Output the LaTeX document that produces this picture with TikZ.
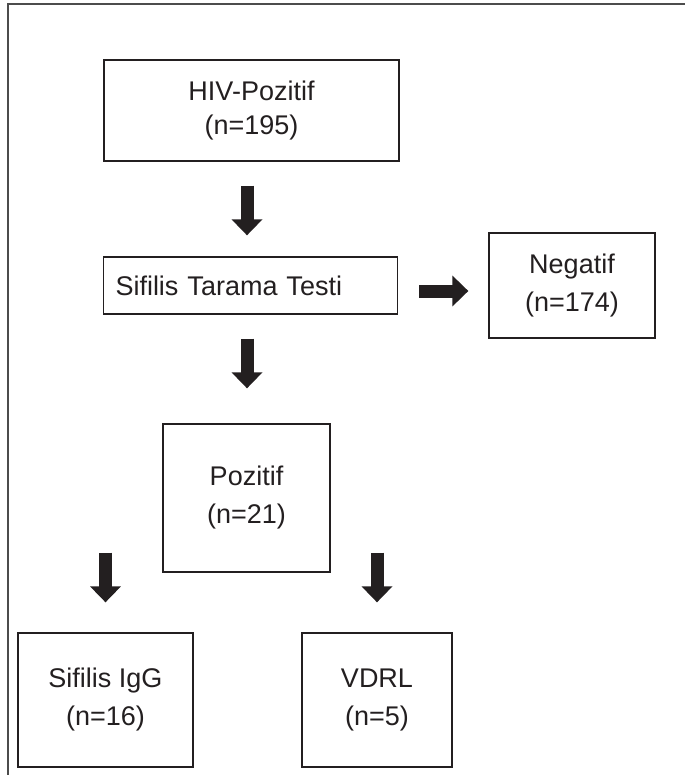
\documentclass[tikz,border=0pt]{standalone}
\usepackage{fontspec}
\setmainfont{Liberation Sans}
\usepackage{tikz}
\usepackage{xcolor}
\usetikzlibrary{arrows.meta}
\definecolor{ink}{HTML}{231F20}

\begin{document}
\begin{tikzpicture}[x=1pt,y=-1pt,
  box/.style={draw=ink,line width=1.3pt,text=ink,align=center,inner sep=0pt,font=\fontsize{27}{38}\selectfont},
  fat/.style={draw=ink,line width=13pt,-{Triangle[width=30pt,length=16pt]}}]
\useasboundingbox (0,0) rectangle (685,775);
\draw[gray!60!black,line width=1.6pt] (8,775) -- (8,4) -- (685,4);

\node[box,minimum width=295pt,minimum height=101pt,font=\fontsize{27}{34}\selectfont] (hiv) at (251.5,110.5) {HIV-Pozitif\\(n=195)};
\node[box,minimum height=57pt,text width=270pt,inner xsep=12pt,align=left] (tarama) at (250.5,285.5) {Sifilis Tarama Testi};
\node[box,minimum width=166pt,minimum height=105pt] (negatif) at (572,285.5) {Negatif\\(n=174)};
\node[box,minimum width=167pt,minimum height=148pt] (pozitif) at (246.5,498) {Pozitif\\(n=21)};
\node[box,minimum width=175pt,minimum height=134pt] (igg) at (105.5,700) {Sifilis IgG\\(n=16)};
\node[box,minimum width=150pt,minimum height=134pt] (vdrl) at (377,700) {VDRL\\(n=5)};

\draw[fat] ([xshift=-4.5pt,yshift=-24pt]hiv.south) -- ([xshift=-3.5pt,yshift=21pt]tarama.north);
\draw[fat] ([xshift=-3.5pt,yshift=-24pt]tarama.south) -- ([xshift=0.5pt,yshift=35pt]pozitif.north);
\draw[fat] ([xshift=21pt,yshift=-5.5pt]tarama.east) -- ([xshift=-20pt,yshift=-5.5pt]negatif.west);
\draw[fat] ([yshift=20pt]igg.north |- pozitif.south) -- ([yshift=30pt]igg.north);
\draw[fat] ([yshift=20pt]vdrl.north |- pozitif.south) -- ([yshift=30pt]vdrl.north);

\end{tikzpicture}
\end{document}
